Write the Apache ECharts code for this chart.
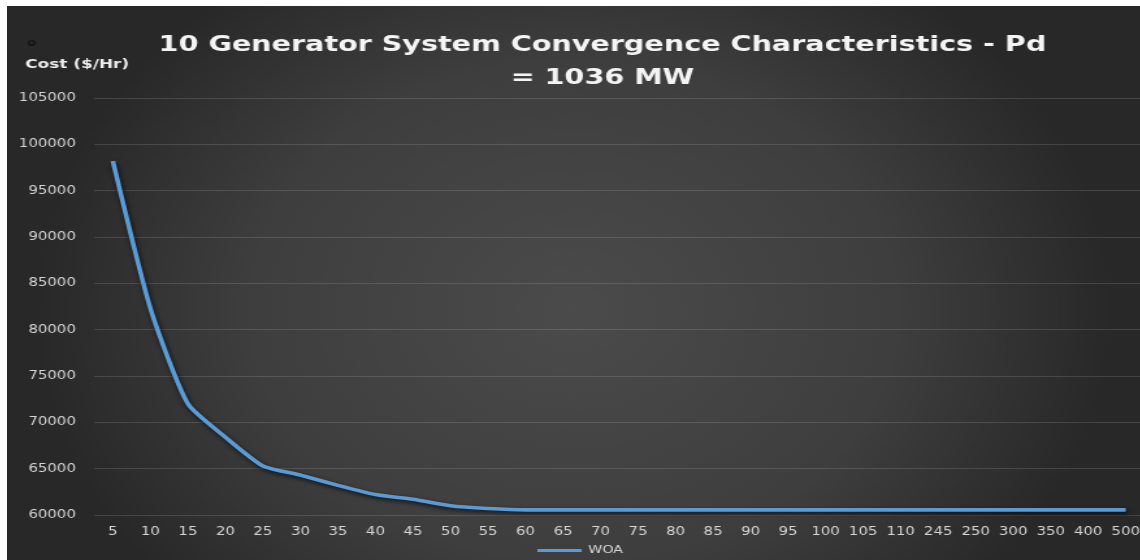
<!DOCTYPE html>
<html>
<head>
<meta charset="utf-8">
<script src="https://cdn.jsdelivr.net/npm/echarts@6/dist/echarts.min.js"></script>
<style>
  html, body { margin: 0; padding: 0; background: #ffffff; width: 1140px; height: 560px; overflow: hidden; }
  /* chart is laid out narrower and widened horizontally for its broad lettering */
  #chart { position: absolute; left: 7px; top: 6px; width: 872px; height: 554px;
           transform: scaleX(1.3); transform-origin: 0 0; }
</style>
</head>
<body>
<div id="chart"></div>
<script>
// Iteration checkpoints shown on the category axis
const iterations = ['5', '10', '15', '20', '25', '30', '35', '40', '45', '50', '55', '60', '65', '70',
  '75', '80', '85', '90', '95', '100', '105', '110', '245', '250', '300', '350', '400', '500'];

// Best generation cost found by WOA at each checkpoint ($/Hr)
const woaCost = [98200, 82300, 72000, 68400, 65300, 64300, 63200, 62200, 61700, 61000, 60700, 60550,
  60550, 60550, 60550, 60550, 60550, 60550, 60550, 60550, 60550, 60550, 60550, 60550, 60550, 60550,
  60550, 60550];

const seriesName = 'WOA';
const titleLine1 = '10 Generator System Convergence Characteristics - Pd';
const titleLine2 = '= 1036 MW';
const yAxisTitle = 'Cost ($/Hr)';

const chart = echarts.init(document.getElementById('chart'), null, { renderer: 'canvas' });

const labelColor = '#d6d6d6';

chart.setOption({
  animation: false,
  backgroundColor: {
    type: 'radial', x: 0.5, y: 0.55, r: 0.75,
    colorStops: [
      { offset: 0, color: '#4b4b4b' },
      { offset: 0.6, color: '#3e3e3e' },
      { offset: 1, color: '#282828' }
    ]
  },
  graphic: [
    {
      type: 'text', x: 458, y: 39,
      style: {
        text: titleLine1, font: 'bold 22px "DejaVu Sans"', fill: '#f4f4f4',
        align: 'center', verticalAlign: 'middle', textAlign: 'center', textVerticalAlign: 'middle',
        shadowColor: 'rgba(0,0,0,0.6)', shadowBlur: 3, shadowOffsetY: 1
      }
    },
    {
      type: 'text', x: 458, y: 72,
      style: {
        text: titleLine2, font: 'bold 22px "DejaVu Sans"', fill: '#f4f4f4',
        align: 'center', verticalAlign: 'middle', textAlign: 'center', textVerticalAlign: 'middle',
        shadowColor: 'rgba(0,0,0,0.6)', shadowBlur: 3, shadowOffsetY: 1
      }
    },
    {
      type: 'text', x: 14, y: 59,
      style: {
        text: yAxisTitle, font: 'bold 13px "DejaVu Sans"', fill: '#ececec',
        align: 'left', verticalAlign: 'middle', textAlign: 'left', textVerticalAlign: 'middle'
      }
    },
    {
      type: 'circle', shape: { cx: 19, cy: 37, r: 2.2 },
      style: { fill: 'rgba(0,0,0,0)', stroke: '#141414', lineWidth: 1.5 }
    }
  ],
  grid: {
    left: 67, top: 92, width: 808, bottom: 45,
    containLabel: false, outerBoundsMode: 'none'
  },
  legend: {
    data: [seriesName],
    left: 403, top: 534,
    icon: 'rect', itemWidth: 34, itemHeight: 3,
    textStyle: { color: labelColor, fontFamily: 'DejaVu Sans', fontSize: 11 }
  },
  xAxis: {
    type: 'category',
    data: iterations,
    boundaryGap: true,
    axisLine: { show: false },
    axisTick: { show: false },
    axisLabel: { interval: 0, margin: 11, color: labelColor, fontFamily: 'DejaVu Sans', fontSize: 11.5 },
    splitLine: { show: false }
  },
  yAxis: {
    type: 'value',
    min: 60000, max: 105000, interval: 5000,
    axisLine: { show: false },
    axisTick: { show: false },
    axisLabel: {
      margin: 14, color: labelColor, fontFamily: 'DejaVu Sans', fontSize: 11.5,
      formatter: (v) => String(v)
    },
    splitLine: { show: true, lineStyle: { color: 'rgba(255,255,255,0.13)', width: 1 } }
  },
  series: [{
    name: seriesName,
    type: 'line',
    data: woaCost,
    smooth: 0.2,
    symbol: 'none',
    showSymbol: false,
    lineStyle: {
      color: '#5b9bd5', width: 3.6,
      shadowColor: 'rgba(0,0,0,0.75)', shadowBlur: 4, shadowOffsetY: 2, shadowOffsetX: 1
    },
    itemStyle: { color: '#5b9bd5' }
  }]
});
</script>
</body>
</html>
